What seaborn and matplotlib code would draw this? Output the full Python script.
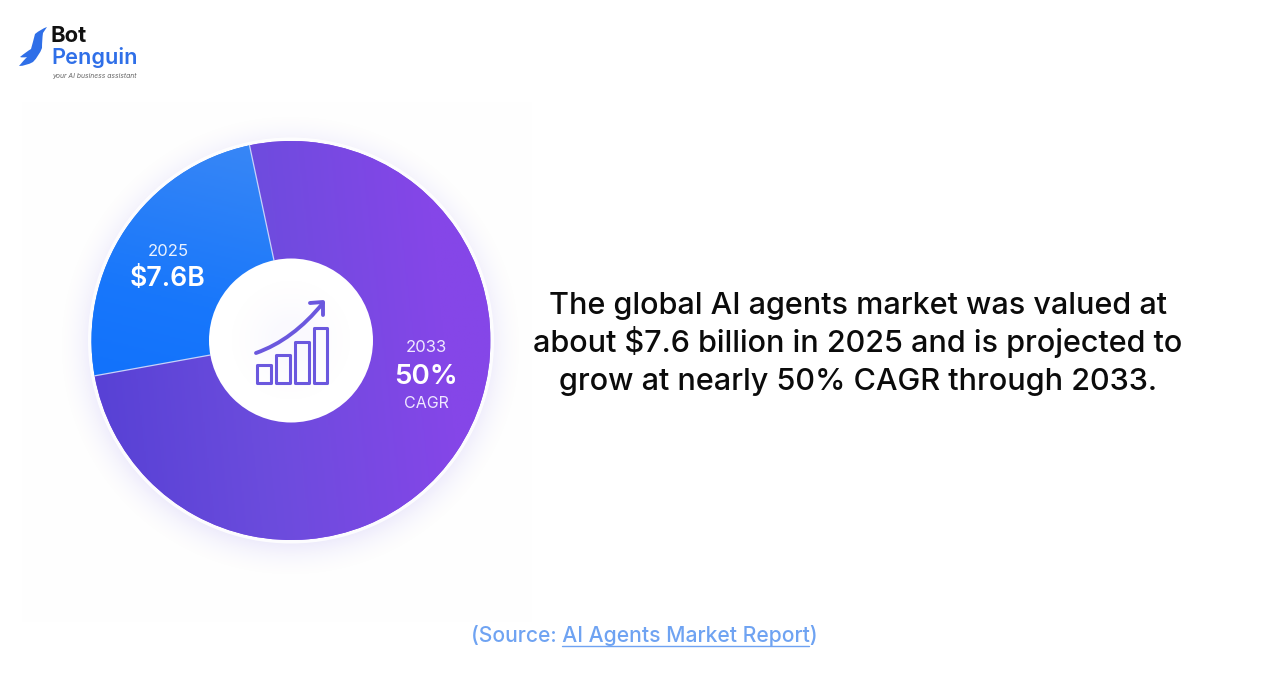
import numpy as np
import matplotlib
matplotlib.use("Agg")
import matplotlib.pyplot as plt
from matplotlib.colors import LinearSegmentedColormap, to_rgb
from matplotlib.patches import Circle, Rectangle, PathPatch
from matplotlib.path import Path
import seaborn as sns

# Market split shown on the ring
segment_names = ["2025", "2033"]
segment_shares = [24.5, 75.5]
segment_big_labels = ["$7.6B", "50%"]
headline_lines = [
    "The global AI agents market was valued at",
    "about $7.6 billion in 2025 and is projected to",
    "grow at nearly 50% CAGR through 2033.",
]
icon_bar_heights = [18, 28, 41, 55]

W, H = 1288, 686
sns.set_theme(style="white")
plt.rcParams["font.family"] = ["Inter", "DejaVu Sans"]

fig = plt.figure(figsize=(W / 100, H / 100), dpi=100, facecolor="white")
ax = fig.add_axes([0, 0, 1, 1])


def Y(y):
    return H - y


CX, CY, R, HOLE = 291, 340.5, 199.5, 82
START = 102

# Barely tinted panel behind the ring
ax.add_patch(Rectangle((22, Y(622)), 510, 520, fc="#fefefe", ec="none", zorder=0))


def radial_glow(cx, cy, inner, outer, color, peak, zorder):
    """Lay a smooth radial fade as an RGBA image, strongest at the inner radius."""
    xs = np.arange(cx - outer, cx + outer + 1)
    ys = np.arange(cy - outer, cy + outer + 1)
    xx, yy = np.meshgrid(xs, ys)
    dist = np.hypot(xx - cx, yy - cy)
    t = np.clip((outer - dist) / (outer - inner), 0, 1)
    rgba = np.zeros(dist.shape + (4,))
    rgba[..., :3] = to_rgb(color)
    rgba[..., 3] = peak * t ** 2
    ax.imshow(rgba, origin="lower", extent=(xs[0], xs[-1], ys[0], ys[-1]), zorder=zorder, interpolation="bilinear")


# Soft lavender halo, sitting slightly low, with a pale rim against the ring
radial_glow(CX, Y(CY + 5), R, R + 36, "#8878ec", 0.13, 1)
ax.add_patch(Circle((CX, Y(CY)), R + 3.5, fc="white", ec="none", alpha=0.85, zorder=2))

wedges, _ = ax.pie(
    segment_shares,
    startangle=START,
    counterclock=True,
    center=(CX, Y(CY)),
    radius=R,
    colors=["#1f7bfa", "#7a45e4"],
    wedgeprops=dict(edgecolor="none"),
)
for w in wedges:
    w.set_zorder(3)

# Diagonal colour blends clipped to each wedge
gx, gy = np.meshgrid(np.linspace(0, 1, 300), np.linspace(0, 1, 300))
extent = (CX - R, CX + R, Y(CY + R), Y(CY - R))
blue_cm = LinearSegmentedColormap.from_list("b", ["#0a6cfd", "#1877fb", "#3f8af5"])
violet_cm = LinearSegmentedColormap.from_list("v", ["#5540d4", "#6c4cdd", "#8546e8"])
blue_img = ax.imshow(0.2 * gx + gy * 0.8, origin="lower", extent=extent, cmap=blue_cm, zorder=4, vmin=0.1, vmax=0.95)
violet_img = ax.imshow(0.9 * gx + 0.1 * gy, origin="lower", extent=extent, cmap=violet_cm, zorder=4, vmin=0, vmax=0.85)
blue_img.set_clip_path(wedges[0])
violet_img.set_clip_path(wedges[1])

# Thin light seams between the wedges
for ang in (START, START + 360 * segment_shares[0] / sum(segment_shares)):
    a = np.radians(ang)
    ax.plot([CX + HOLE * np.cos(a), CX + R * np.cos(a)],
            [Y(CY) + HOLE * np.sin(a), Y(CY) + R * np.sin(a)],
            color="#c6d2fa", lw=0.9, zorder=5)

# Centre hole with a faint lilac glow in the middle
ax.add_patch(Circle((CX, Y(CY)), HOLE, fc="white", ec="none", zorder=6))
radial_glow(CX, Y(CY), 20, HOLE - 4, "#8a78ee", 0.04, 6)

ax.set_xlim(0, W)
ax.set_ylim(0, H)
ax.set_aspect("auto")
ax.axis("off")

# Ring labels
ax.text(168, Y(251), segment_names[0], color="#eaf2ff", fontsize=12, ha="center", va="center", zorder=7)
ax.text(168, Y(279), segment_big_labels[0], color="white", fontsize=19.2, fontweight="semibold", ha="center", va="center", zorder=7)
ax.text(426, Y(347), segment_names[1], color="#efe8ff", fontsize=12, ha="center", va="center", zorder=7)
ax.text(426, Y(377), segment_big_labels[1], color="white", fontsize=20, fontweight="semibold", ha="center", va="center", zorder=7)
ax.text(426, Y(404), "CAGR", color="#efe8ff", fontsize=11.5, ha="center", va="center", zorder=7)

# Growth icon in the hole
icon_color = "#6b58de"
bar_left = [257, 276, 295, 314]
bar_w = [14, 14, 14, 13]
base = 383
for x, bw, h in zip(bar_left, bar_w, icon_bar_heights):
    ax.add_patch(Rectangle((x, Y(base)), bw, h, fc="none", ec=icon_color, lw=2.2, zorder=7, joinstyle="round"))
curve = Path([(256, Y(353)), (293, Y(340)), (323, Y(303))], [Path.MOVETO, Path.CURVE3, Path.CURVE3])
ax.add_patch(PathPatch(curve, fc="none", ec=icon_color, lw=2.8, capstyle="round", zorder=7))
ax.plot([310, 323, 323], [Y(303), Y(302), Y(315)], color=icon_color, lw=2.8, solid_capstyle="round", zorder=7)

# Headline
for line, y in zip(headline_lines, (314, 352, 390)):
    ax.text(858, Y(y), line, color="#0b0b0b", fontsize=22, fontweight="medium", ha="center", va="baseline")

# Source line
ax.text(644, Y(636), "(Source: AI Agents Market Report)", color="#6fa3f2", fontsize=15.2, fontweight="medium", ha="center", va="center")
ax.plot([562, 809], [Y(646), Y(646)], color="#6fa3f2", lw=1)

# Wordmark with its penguin silhouette
penguin = Path(
    [(47, Y(27)), (41, Y(29)), (35, Y(34)), (33, Y(42)), (31, Y(49)), (26, Y(52)), (20, Y(57)), (23, Y(58)), (27, Y(57)),
     (24, Y(60)), (19, Y(66)), (26, Y(66)), (33, Y(62)), (39, Y(56)), (42, Y(48)), (42, Y(40)), (43, Y(33)), (47, Y(27)), (47, Y(27))],
    [Path.MOVETO] + [Path.CURVE3] * 18,
)
ax.add_patch(PathPatch(penguin, fc="#2f6fe8", ec="none"))
ax.text(51, Y(36), "Bot", color="#111111", fontsize=15.8, fontweight="bold", ha="left", va="center")
ax.text(51, Y(58), "Penguin", color="#2f6fe8", fontsize=15.6, fontweight="semibold", ha="left", va="center")
ax.text(52, Y(76), "your AI business assistant", color="#666666", fontsize=4.9, style="italic", ha="left", va="center")

fig.savefig("out.png", dpi=100, facecolor="white")
